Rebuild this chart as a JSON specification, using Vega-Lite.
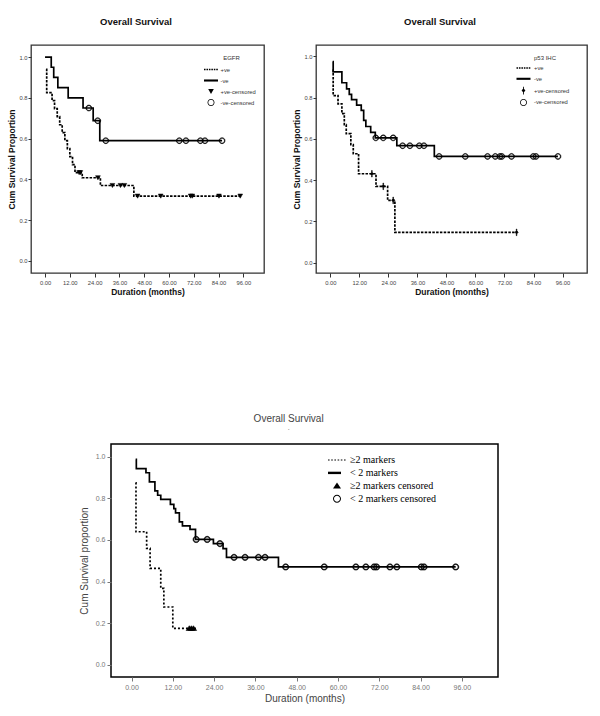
{
  "$schema": "https://vega.github.io/schema/vega-lite/v6.json",
  "padding": {"left": 7, "top": 15, "right": 0, "bottom": 0},
  "autosize": {"type": "pad"},
  "background": "white",
  "config": {
    "view": {"stroke": "#333", "strokeWidth": 1.3},
    "axis": {"domain": false, "grid": false, "tickColor": "#333", "labelColor": "#333", "titleColor": "#111"},
    "font": "Liberation Sans"
  },
  "datasets": {
    "egfrLines": [
      {"g": "+ve", "t": 0.5, "s": 0.94}, {"g": "+ve", "t": 0.8, "s": 0.825}, {"g": "+ve", "t": 3.4, "s": 0.786},
      {"g": "+ve", "t": 4.6, "s": 0.747}, {"g": "+ve", "t": 5.9, "s": 0.708}, {"g": "+ve", "t": 7.1, "s": 0.668},
      {"g": "+ve", "t": 8.3, "s": 0.629}, {"g": "+ve", "t": 9.6, "s": 0.59}, {"g": "+ve", "t": 10.8, "s": 0.551},
      {"g": "+ve", "t": 12.0, "s": 0.512}, {"g": "+ve", "t": 13.3, "s": 0.472}, {"g": "+ve", "t": 14.5, "s": 0.433},
      {"g": "+ve", "t": 18.0, "s": 0.408}, {"g": "+ve", "t": 26.8, "s": 0.37}, {"g": "+ve", "t": 43.0, "s": 0.318},
      {"g": "+ve", "t": 94.5, "s": 0.318},
      {"g": "-ve", "t": 0, "s": 1.0}, {"g": "-ve", "t": 3.0, "s": 0.95}, {"g": "-ve", "t": 4.2, "s": 0.9},
      {"g": "-ve", "t": 6.2, "s": 0.85}, {"g": "-ve", "t": 11.2, "s": 0.8}, {"g": "-ve", "t": 18.4, "s": 0.75},
      {"g": "-ve", "t": 23.3, "s": 0.688}, {"g": "-ve", "t": 26.5, "s": 0.59}, {"g": "-ve", "t": 85.7, "s": 0.59}
    ],
    "egfrCensored": [
      {"g": "+ve-censored", "t": 16.5, "s": 0.433}, {"g": "+ve-censored", "t": 17.1, "s": 0.433},
      {"g": "+ve-censored", "t": 25.6, "s": 0.408}, {"g": "+ve-censored", "t": 32.6, "s": 0.37},
      {"g": "+ve-censored", "t": 36.5, "s": 0.37}, {"g": "+ve-censored", "t": 38.4, "s": 0.37},
      {"g": "+ve-censored", "t": 44.8, "s": 0.318}, {"g": "+ve-censored", "t": 56, "s": 0.318},
      {"g": "+ve-censored", "t": 70.5, "s": 0.318}, {"g": "+ve-censored", "t": 71.3, "s": 0.318},
      {"g": "+ve-censored", "t": 84.2, "s": 0.318}, {"g": "+ve-censored", "t": 94.5, "s": 0.318},
      {"g": "-ve-censored", "t": 21.2, "s": 0.75}, {"g": "-ve-censored", "t": 25.5, "s": 0.688},
      {"g": "-ve-censored", "t": 29.4, "s": 0.59}, {"g": "-ve-censored", "t": 65, "s": 0.59},
      {"g": "-ve-censored", "t": 68.2, "s": 0.59}, {"g": "-ve-censored", "t": 75.2, "s": 0.59},
      {"g": "-ve-censored", "t": 77.4, "s": 0.59}, {"g": "-ve-censored", "t": 85.7, "s": 0.59}
    ],
    "p53Lines": [
      {"g": "+ve", "t": 1.0, "s": 0.935}, {"g": "+ve", "t": 1.2, "s": 0.81}, {"g": "+ve", "t": 3.2, "s": 0.77},
      {"g": "+ve", "t": 4.8, "s": 0.722}, {"g": "+ve", "t": 5.8, "s": 0.669}, {"g": "+ve", "t": 6.6, "s": 0.625},
      {"g": "+ve", "t": 8.5, "s": 0.572}, {"g": "+ve", "t": 9.5, "s": 0.528}, {"g": "+ve", "t": 11.7, "s": 0.431},
      {"g": "+ve", "t": 18.9, "s": 0.37}, {"g": "+ve", "t": 23.7, "s": 0.302}, {"g": "+ve", "t": 26.7, "s": 0.147},
      {"g": "+ve", "t": 77, "s": 0.147},
      {"g": "-ve", "t": 1.0, "s": 0.975}, {"g": "-ve", "t": 1.2, "s": 0.925}, {"g": "-ve", "t": 4.8, "s": 0.872},
      {"g": "-ve", "t": 6.75, "s": 0.842}, {"g": "-ve", "t": 7.85, "s": 0.816}, {"g": "-ve", "t": 8.8, "s": 0.79},
      {"g": "-ve", "t": 10.9, "s": 0.764}, {"g": "-ve", "t": 12.8, "s": 0.738}, {"g": "-ve", "t": 13.8, "s": 0.69},
      {"g": "-ve", "t": 14.7, "s": 0.66}, {"g": "-ve", "t": 16.7, "s": 0.632}, {"g": "-ve", "t": 18.6, "s": 0.605},
      {"g": "-ve", "t": 27.5, "s": 0.567}, {"g": "-ve", "t": 43.0, "s": 0.515}, {"g": "-ve", "t": 94.1, "s": 0.515}
    ],
    "p53Censored": [
      {"g": "+ve-censored", "t": 17.2, "s": 0.431}, {"g": "+ve-censored", "t": 21.9, "s": 0.37},
      {"g": "+ve-censored", "t": 26.0, "s": 0.302}, {"g": "+ve-censored", "t": 77, "s": 0.147},
      {"g": "-ve-censored", "t": 18.8, "s": 0.605}, {"g": "-ve-censored", "t": 21.9, "s": 0.605},
      {"g": "-ve-censored", "t": 26.0, "s": 0.605}, {"g": "-ve-censored", "t": 29.9, "s": 0.567},
      {"g": "-ve-censored", "t": 32.9, "s": 0.567}, {"g": "-ve-censored", "t": 36.8, "s": 0.567},
      {"g": "-ve-censored", "t": 38.7, "s": 0.567}, {"g": "-ve-censored", "t": 45.0, "s": 0.515},
      {"g": "-ve-censored", "t": 55.8, "s": 0.515}, {"g": "-ve-censored", "t": 65.0, "s": 0.515},
      {"g": "-ve-censored", "t": 68.2, "s": 0.515}, {"g": "-ve-censored", "t": 70.1, "s": 0.515},
      {"g": "-ve-censored", "t": 70.9, "s": 0.515}, {"g": "-ve-censored", "t": 74.9, "s": 0.515},
      {"g": "-ve-censored", "t": 83.9, "s": 0.515}, {"g": "-ve-censored", "t": 85.0, "s": 0.515},
      {"g": "-ve-censored", "t": 94.1, "s": 0.515}
    ],
    "markerLines": [
      {"g": "≥2 markers", "t": 1.2, "s": 0.874}, {"g": "≥2 markers", "t": 1.3, "s": 0.639},
      {"g": "≥2 markers", "t": 4.4, "s": 0.559}, {"g": "≥2 markers", "t": 5.4, "s": 0.463},
      {"g": "≥2 markers", "t": 8.5, "s": 0.367}, {"g": "≥2 markers", "t": 9.4, "s": 0.278},
      {"g": "≥2 markers", "t": 12.0, "s": 0.175}, {"g": "≥2 markers", "t": 18.8, "s": 0.175},
      {"g": "< 2 markers", "t": 1.2, "s": 0.986}, {"g": "< 2 markers", "t": 1.4, "s": 0.942},
      {"g": "< 2 markers", "t": 4.2, "s": 0.922}, {"g": "< 2 markers", "t": 5.2, "s": 0.878},
      {"g": "< 2 markers", "t": 6.8, "s": 0.835}, {"g": "< 2 markers", "t": 7.6, "s": 0.814},
      {"g": "< 2 markers", "t": 8.5, "s": 0.794}, {"g": "< 2 markers", "t": 11.3, "s": 0.77},
      {"g": "< 2 markers", "t": 12.3, "s": 0.75}, {"g": "< 2 markers", "t": 12.8, "s": 0.73},
      {"g": "< 2 markers", "t": 13.9, "s": 0.686}, {"g": "< 2 markers", "t": 14.8, "s": 0.667},
      {"g": "< 2 markers", "t": 17.0, "s": 0.65}, {"g": "< 2 markers", "t": 18.6, "s": 0.602},
      {"g": "< 2 markers", "t": 23.8, "s": 0.582}, {"g": "< 2 markers", "t": 26.6, "s": 0.558},
      {"g": "< 2 markers", "t": 27.6, "s": 0.516}, {"g": "< 2 markers", "t": 42.7, "s": 0.47},
      {"g": "< 2 markers", "t": 94.2, "s": 0.47}
    ],
    "markerCensored": [
      {"g": "≥2 markers censored", "t": 16.8, "s": 0.175}, {"g": "≥2 markers censored", "t": 17.4, "s": 0.175},
      {"g": "≥2 markers censored", "t": 18.0, "s": 0.175},
      {"g": "< 2 markers censored", "t": 18.8, "s": 0.602}, {"g": "< 2 markers censored", "t": 22.0, "s": 0.602},
      {"g": "< 2 markers censored", "t": 25.7, "s": 0.582}, {"g": "< 2 markers censored", "t": 29.8, "s": 0.516},
      {"g": "< 2 markers censored", "t": 33.0, "s": 0.516}, {"g": "< 2 markers censored", "t": 36.9, "s": 0.516},
      {"g": "< 2 markers censored", "t": 38.8, "s": 0.516}, {"g": "< 2 markers censored", "t": 44.8, "s": 0.47},
      {"g": "< 2 markers censored", "t": 56, "s": 0.47}, {"g": "< 2 markers censored", "t": 65.2, "s": 0.47},
      {"g": "< 2 markers censored", "t": 68.1, "s": 0.47}, {"g": "< 2 markers censored", "t": 70.5, "s": 0.47},
      {"g": "< 2 markers censored", "t": 71.2, "s": 0.47}, {"g": "< 2 markers censored", "t": 75.1, "s": 0.47},
      {"g": "< 2 markers censored", "t": 77.1, "s": 0.47}, {"g": "< 2 markers censored", "t": 84.2, "s": 0.47},
      {"g": "< 2 markers censored", "t": 85.0, "s": 0.47}, {"g": "< 2 markers censored", "t": 94.2, "s": 0.47}
    ]
  },
  "resolve": {
    "scale": {"x": "independent", "y": "independent", "shape": "independent", "fill": "independent", "strokeDash": "independent"},
    "legend": {"shape": "independent", "fill": "independent", "strokeDash": "independent"}
  },
  "spacing": 116,
  "vconcat": [
    {
      "spacing": 27,
      "resolve": {
        "scale": {"x": "independent", "y": "independent", "shape": "independent", "fill": "independent", "strokeDash": "independent"},
        "legend": {"shape": "independent", "fill": "independent", "strokeDash": "independent"}
      },
      "hconcat": [
        {
          "width": 233,
          "height": 228,
          "title": {"text": "Overall Survival", "font": "Liberation Sans", "fontSize": 9.5, "fontWeight": "bold", "color": "#111", "anchor": "middle", "frame": "bounds", "offset": 19},
          "encoding": {
            "x": {"field": "t", "type": "quantitative", "scale": {"domain": [-6.8, 106], "nice": false, "zero": false},
              "axis": {"values": [0, 12, 24, 36, 48, 60, 72, 84, 96], "format": ".2f", "title": "Duration (months)", "titleFont": "Liberation Sans", "titleFontSize": 8.5, "titleFontWeight": "bold", "titlePadding": 3, "labelFont": "Liberation Sans", "labelFontSize": 5.8, "labelPadding": 2, "tickSize": 4, "labelColor": "#444"}},
            "y": {"field": "s", "type": "quantitative", "scale": {"domain": [-0.059, 1.059], "nice": false, "zero": false},
              "axis": {"values": [0, 0.2, 0.4, 0.6, 0.8, 1], "format": ".1f", "title": "Cum Survival Proportion", "titleFont": "Liberation Sans", "titleFontSize": 8.5, "titleFontWeight": "bold", "titlePadding": 2, "labelFont": "Liberation Sans", "labelFontSize": 5.8, "labelPadding": 1, "tickSize": 3, "labelColor": "#444"}}
          },
          "layer": [
            {
              "data": {"name": "egfrLines"},
              "mark": {"type": "line", "interpolate": "step-after", "color": "black", "strokeWidth": 1.7},
              "encoding": {"strokeDash": {"field": "g", "type": "nominal", "scale": {"domain": ["+ve", "-ve"], "range": [[2.5, 1.3], [1, 0]]}, "legend": null}}
            },
            {
              "data": {"name": "egfrCensored"},
              "mark": {"type": "point", "filled": false, "stroke": "black", "strokeWidth": 0.5, "opacity": 1, "size": 36},
              "encoding": {
                "shape": {"field": "g", "type": "nominal",
                  "scale": {"domain": ["+ve", "-ve", "+ve-censored", "-ve-censored"], "range": ["M-2,-0.2h0.45v0.4h-0.45zM-1.3,-0.2h0.45v0.4h-0.45zM-0.6,-0.2h0.45v0.4h-0.45zM0.1,-0.2h0.45v0.4h-0.45zM0.8,-0.2h0.45v0.4h-0.45zM1.5,-0.2h0.45v0.4h-0.45z", "M-2,-0.3H2V0.3H-2Z", "M-0.8,-0.7H0.8L0,0.7Z", "M-1,0A1,1 0 1,0 1,0A1,1 0 1,0 -1,0ZM-0.78,0A0.78,0.78 0 1,1 0.78,0A0.78,0.78 0 1,1 -0.78,0Z"]},
                  "legend": {"title": "EGFR", "orient": "none", "legendX": 176.5, "legendY": 10, "titleAnchor": "middle", "titleFont": "Liberation Sans", "titleFontSize": 6, "titleFontWeight": "normal", "titleColor": "#333", "titlePadding": 5, "labelFont": "Liberation Sans", "labelFontSize": 5.8, "labelColor": "#333", "labelOffset": 6, "symbolSize": 49, "symbolStrokeWidth": 0, "rowPadding": 4, "padding": 0}},
                "fill": {"field": "g", "type": "nominal",
                  "scale": {"domain": ["+ve", "-ve", "+ve-censored", "-ve-censored"], "range": ["black", "black", "black", "black"]},
                  "legend": {"title": "EGFR", "orient": "none", "legendX": 176.5, "legendY": 10, "titleAnchor": "middle", "titleFont": "Liberation Sans", "titleFontSize": 6, "titleFontWeight": "normal", "titleColor": "#333", "titlePadding": 5, "labelFont": "Liberation Sans", "labelFontSize": 5.8, "labelColor": "#333", "labelOffset": 6, "symbolSize": 49, "symbolStrokeWidth": 0, "rowPadding": 4, "padding": 0}}
              }
            }
          ]
        },
        {
          "width": 271,
          "height": 228,
          "title": {"text": "Overall Survival", "font": "Liberation Sans", "fontSize": 9.5, "fontWeight": "bold", "color": "#111", "anchor": "middle", "frame": "bounds", "offset": 19},
          "encoding": {
            "x": {"field": "t", "type": "quantitative", "scale": {"domain": [-5.9, 106.1], "nice": false, "zero": false},
              "axis": {"values": [0, 12, 24, 36, 48, 60, 72, 84, 96], "format": ".2f", "title": "Duration (months)", "titleFont": "Liberation Sans", "titleFontSize": 8.5, "titleFontWeight": "bold", "titlePadding": 3, "labelFont": "Liberation Sans", "labelFontSize": 5.8, "labelPadding": 2, "tickSize": 4, "labelColor": "#444"}},
            "y": {"field": "s", "type": "quantitative", "scale": {"domain": [-0.05, 1.055], "nice": false, "zero": false},
              "axis": {"values": [0, 0.2, 0.4, 0.6, 0.8, 1], "format": ".1f", "title": "Cum Survival Proportion", "titleFont": "Liberation Sans", "titleFontSize": 8.5, "titleFontWeight": "bold", "titlePadding": 2, "labelFont": "Liberation Sans", "labelFontSize": 5.8, "labelPadding": 1, "tickSize": 3, "labelColor": "#444"}}
          },
          "layer": [
            {
              "data": {"name": "p53Lines"},
              "mark": {"type": "line", "interpolate": "step-after", "color": "black", "strokeWidth": 1.7},
              "encoding": {"strokeDash": {"field": "g", "type": "nominal", "scale": {"domain": ["+ve", "-ve"], "range": [[2.5, 1.3], [1, 0]]}, "legend": null}}
            },
            {
              "data": {"name": "p53Censored"},
              "mark": {"type": "point", "filled": false, "stroke": "black", "strokeWidth": 0.5, "opacity": 1, "size": 36},
              "encoding": {
                "shape": {"field": "g", "type": "nominal",
                  "scale": {"domain": ["+ve", "-ve", "+ve-censored", "-ve-censored"], "range": ["M-2,-0.2h0.45v0.4h-0.45zM-1.3,-0.2h0.45v0.4h-0.45zM-0.6,-0.2h0.45v0.4h-0.45zM0.1,-0.2h0.45v0.4h-0.45zM0.8,-0.2h0.45v0.4h-0.45zM1.5,-0.2h0.45v0.4h-0.45z", "M-2,-0.3H2V0.3H-2Z", "M-0.12,-1.1H0.12V-0.5L0.55,0L0.12,0.5V1.1H-0.12V0.5L-0.55,0L-0.12,-0.5Z", "M-1,0A1,1 0 1,0 1,0A1,1 0 1,0 -1,0ZM-0.78,0A0.78,0.78 0 1,1 0.78,0A0.78,0.78 0 1,1 -0.78,0Z"]},
                  "legend": {"title": "p53 IHC", "orient": "none", "legendX": 204, "legendY": 10, "titleAnchor": "middle", "titleFont": "Liberation Sans", "titleFontSize": 6, "titleFontWeight": "normal", "titleColor": "#333", "titlePadding": 3.5, "labelFont": "Liberation Sans", "labelFontSize": 5.8, "labelColor": "#333", "labelOffset": 7, "symbolSize": 49, "symbolStrokeWidth": 0, "rowPadding": 3.8, "padding": 0}},
                "fill": {"field": "g", "type": "nominal",
                  "scale": {"domain": ["+ve", "-ve", "+ve-censored", "-ve-censored"], "range": ["black", "black", "black", "black"]},
                  "legend": {"title": "p53 IHC", "orient": "none", "legendX": 204, "legendY": 10, "titleAnchor": "middle", "titleFont": "Liberation Sans", "titleFontSize": 6, "titleFontWeight": "normal", "titleColor": "#333", "titlePadding": 3.5, "labelFont": "Liberation Sans", "labelFontSize": 5.8, "labelColor": "#333", "labelOffset": 7, "symbolSize": 49, "symbolStrokeWidth": 0, "rowPadding": 3.8, "padding": 0}}
              }
            }
          ]
        }
      ]
    },
    {
      "spacing": 0,
      "resolve": {
        "scale": {"x": "independent", "y": "independent", "shape": "independent", "fill": "independent", "strokeDash": "independent"},
        "legend": {"shape": "independent", "fill": "independent", "strokeDash": "independent"}
      },
      "hconcat": [
        {
          "width": 47,
          "height": 1,
          "view": {"stroke": null},
          "data": {"values": []},
          "mark": "point",
          "encoding": {}
        },
        {
          "width": 387,
          "height": 233,
          "view": {"stroke": "#000", "strokeWidth": 1.5},
          "title": {"text": "Overall Survival", "subtitle": ".", "font": "Liberation Sans", "fontSize": 10, "fontWeight": "normal", "color": "#444", "subtitleFont": "Liberation Sans", "subtitleFontSize": 7, "subtitleColor": "#666", "subtitlePadding": 0, "anchor": "middle", "frame": "bounds", "offset": 13},
          "encoding": {
            "x": {"field": "t", "type": "quantitative", "scale": {"domain": [-5.96, 106.5], "nice": false, "zero": false},
              "axis": {"values": [0, 12, 24, 36, 48, 60, 72, 84, 96], "format": ".2f", "title": "Duration (months)", "titleFont": "Liberation Sans", "titleFontSize": 10, "titleFontWeight": "normal", "titleColor": "#444", "titlePadding": 3, "labelFont": "Liberation Sans", "labelFontSize": 7, "labelPadding": 2, "tickSize": 4, "labelColor": "#777", "tickColor": "#777"}},
            "y": {"field": "s", "type": "quantitative", "scale": {"domain": [-0.058, 1.06], "nice": false, "zero": false},
              "axis": {"values": [0, 0.2, 0.4, 0.6, 0.8, 1], "format": ".1f", "title": "Cum Survival proportion", "titleFont": "Liberation Sans", "titleFontSize": 10, "titleFontWeight": "normal", "titleColor": "#444", "titlePadding": 6, "labelFont": "Liberation Sans", "labelFontSize": 7, "labelPadding": 2, "tickSize": 4, "labelColor": "#777", "tickColor": "#777"}}
          },
          "layer": [
            {
              "data": {"name": "markerLines"},
              "mark": {"type": "line", "interpolate": "step-after", "color": "black", "strokeWidth": 1.7},
              "encoding": {"strokeDash": {"field": "g", "type": "nominal", "scale": {"domain": ["≥2 markers", "< 2 markers"], "range": [[2, 2], [1, 0]]}, "legend": null}}
            },
            {
              "data": {"name": "markerCensored"},
              "mark": {"type": "point", "filled": false, "stroke": "black", "strokeWidth": 0.6, "opacity": 1, "size": 40},
              "encoding": {
                "shape": {"field": "g", "type": "nominal",
                  "scale": {"domain": ["≥2 markers", "< 2 markers", "≥2 markers censored", "< 2 markers censored"], "range": ["M-2.25,-0.15h0.4v0.3h-0.4zM-1.45,-0.15h0.4v0.3h-0.4zM-0.65,-0.15h0.4v0.3h-0.4zM0.15,-0.15h0.4v0.3h-0.4zM0.95,-0.15h0.4v0.3h-0.4zM1.75,-0.15h0.4v0.3h-0.4z", "M-2.25,-0.3H1V0.3H-2.25Z", "M-1,0.65H1L0,-0.85Z", "M-1,0A1,1 0 1,0 1,0A1,1 0 1,0 -1,0ZM-0.75,0A0.75,0.75 0 1,1 0.75,0A0.75,0.75 0 1,1 -0.75,0Z"]},
                  "legend": {"title": null, "orient": "none", "legendX": 221, "legendY": 11, "labelFont": "Liberation Serif", "labelFontSize": 10, "labelColor": "#000", "labelOffset": 8, "symbolSize": 64, "symbolStrokeWidth": 0, "rowPadding": 2.9, "padding": 0}},
                "fill": {"field": "g", "type": "nominal",
                  "scale": {"domain": ["≥2 markers", "< 2 markers", "≥2 markers censored", "< 2 markers censored"], "range": ["black", "black", "black", "black"]},
                  "legend": {"title": null, "orient": "none", "legendX": 221, "legendY": 11, "labelFont": "Liberation Serif", "labelFontSize": 10, "labelColor": "#000", "labelOffset": 8, "symbolSize": 64, "symbolStrokeWidth": 0, "rowPadding": 2.9, "padding": 0}}
              }
            }
          ]
        }
      ]
    }
  ]
}
